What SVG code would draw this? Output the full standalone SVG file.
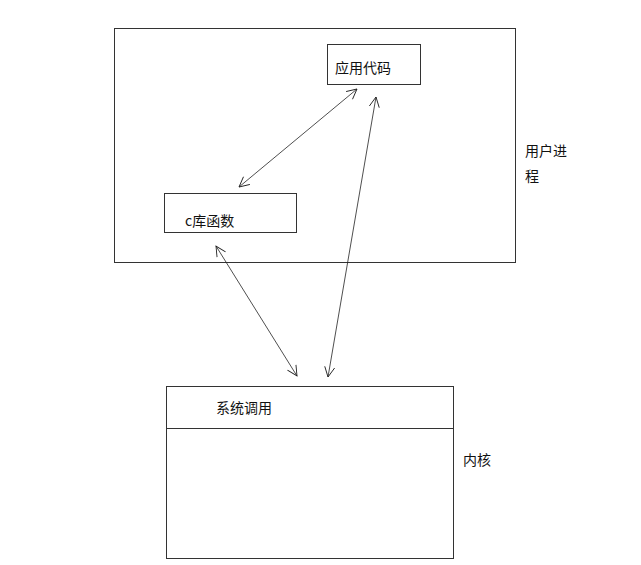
<svg xmlns="http://www.w3.org/2000/svg" width="641" height="565" viewBox="0 0 641 565">
<defs>
<style>
.box{fill:none;stroke:#333;stroke-width:1}
.t{font-family:"Noto Sans CJK SC","Microsoft YaHei",sans-serif;font-size:14px;fill:#111}
.c{stroke:#222;stroke-width:0.8;fill:none}
</style>
<marker id="a" viewBox="0 0 12 12" refX="11" refY="6" markerWidth="12" markerHeight="12" markerUnits="userSpaceOnUse" orient="auto-start-reverse">
<path d="M1,1 L11,6 L1,11" fill="none" stroke="#222" stroke-width="0.9"/>
</marker>
</defs>
<rect width="641" height="565" fill="#fff"/>
<g id="user-process">
<rect class="box" x="114.5" y="28.5" width="401" height="234"/>
<text class="t" x="525" y="156">用户进</text>
<text class="t" x="525" y="181">程</text>
</g>
<g id="app-code">
<rect class="box" x="327.5" y="44.5" width="93" height="40"/>
<text class="t" x="335" y="73">应用代码</text>
</g>
<g id="clib">
<rect class="box" x="164.5" y="193.5" width="132" height="39"/>
<text class="t" x="185" y="226">c库函数</text>
</g>
<g id="kernel">
<rect class="box" x="166.5" y="386.5" width="287" height="172"/>
<line class="box" x1="166.5" y1="428.5" x2="453.5" y2="428.5"/>
<text class="t" x="216" y="413">系统调用</text>
<text class="t" x="463" y="465">内核</text>
</g>
<g id="connectors">
<line class="c" x1="357" y1="89" x2="239" y2="187" marker-start="url(#a)" marker-end="url(#a)"/>
<line class="c" x1="216" y1="246" x2="297" y2="376" marker-start="url(#a)" marker-end="url(#a)"/>
<line class="c" x1="376" y1="97" x2="328" y2="377" marker-start="url(#a)" marker-end="url(#a)"/>
</g>
</svg>
